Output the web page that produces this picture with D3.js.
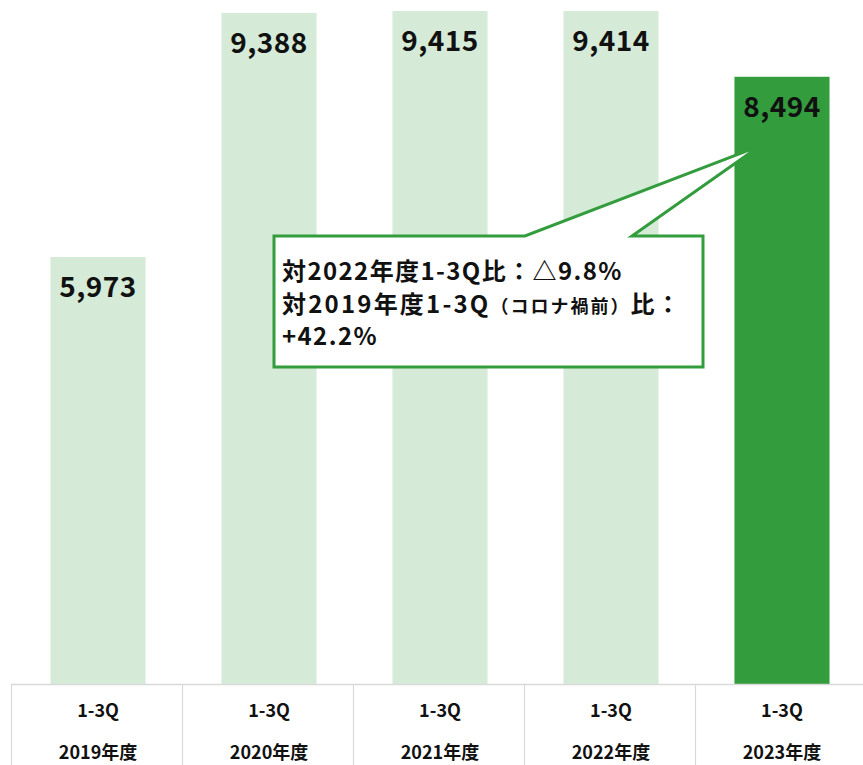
<!DOCTYPE html>
<html><head><meta charset="utf-8">
<script src="https://cdn.jsdelivr.net/npm/d3@7"></script>
<style>
html,body{margin:0;padding:0;background:#fff;}
svg{display:block;font-family:"Noto Sans CJK JP","Noto Sans",sans-serif;}
</style></head>
<body><svg id="c" width="863" height="765"></svg>
<script>
const periods = ["1-3Q","1-3Q","1-3Q","1-3Q","1-3Q"];
const years = ["2019年度","2020年度","2021年度","2022年度","2023年度"];
const values = [5973, 9388, 9415, 9414, 8494];
const highlight = [false, false, false, false, true];
const calloutLines = [
  [{t:"対2022年度1-3Q比：△9.8%", s:24, ls:1.4}],
  [{t:"対2019年度1-3Q", s:24, ls:2.2},{t:"（コロナ禍前）", s:18, ls:2},{t:"比：", s:24, ls:1.4}],
  [{t:"+42.2%", s:24, ls:1.4}]
];

const svg = d3.select("#c");
const W = 863, base = 684;
const x = d3.scaleBand().domain(years).range([11.5, 868.5]).paddingInner(0.444).paddingOuter(0.228);
const y = d3.scaleLinear().domain([0, 9568]).range([base, 0]);
const fmt = d3.format(",");
const light = "#d5ebd8", dark = "#339c3d";

// bars
svg.selectAll("rect.bar").data(values).join("rect").attr("class","bar")
  .attr("x",(d,i)=>x(years[i])).attr("width",x.bandwidth())
  .attr("y",d=>y(d)).attr("height",d=>base-y(d))
  .attr("fill",(d,i)=>highlight[i]?dark:light);

// value labels
svg.selectAll("text.val").data(values).join("text").attr("class","val")
  .attr("x",(d,i)=>x(years[i])+x.bandwidth()/2).attr("y",d=>y(d)+40)
  .attr("text-anchor","middle").attr("font-size",28).attr("font-weight",700)
  .attr("letter-spacing",0.5)
  .attr("fill","#111").text(d=>fmt(d));

// table
const step = x.step();
const g = svg.append("g");
g.append("line").attr("x1",11).attr("x2",W).attr("y1",base+0.5).attr("y2",base+0.5).attr("stroke","#d9d9d9").attr("stroke-width",1.5);
years.forEach((yr,i)=>{
  const x0 = Math.round(11 + i*step);
  g.append("line").attr("x1",x0+0.5).attr("x2",x0+0.5).attr("y1",base).attr("y2",765).attr("stroke","#d9d9d9").attr("stroke-width",1.2);
  const cx = x(yr)+x.bandwidth()/2;
  g.append("text").attr("x",cx).attr("y",717).attr("text-anchor","middle").attr("font-size",18).attr("font-weight",700).attr("fill","#111").text(periods[i]);
  g.append("text").attr("x",cx).attr("y",759).attr("text-anchor","middle").attr("font-size",18).attr("font-weight",700).attr("fill","#111").text(yr);
});

// callout
const bx0 = 274, by0 = 236, bx1 = 703, by1 = 367;
const tipX = x(years[4]) + x.bandwidth()*0.27, tipY = y(values[4]) + 69;
const pA = 525, pB = 632;
const path = `M${bx0},${by0} L${pA},${by0} L${tipX},${tipY} L${pB},${by0} L${bx1},${by0} L${bx1},${by1} L${bx0},${by1} Z`;
svg.append("path").attr("d",path).attr("fill","#fff").attr("stroke",dark).attr("stroke-width",3).attr("stroke-linejoin","miter");

const baselines = [280, 313, 345];
calloutLines.forEach((parts,i)=>{
  const t = svg.append("text").attr("x",282).attr("y",baselines[i]).attr("font-weight",700).attr("fill","#111");
  parts.forEach(p=>t.append("tspan").attr("font-size",p.s).attr("letter-spacing",p.ls).text(p.t));
});
</script></body></html>
